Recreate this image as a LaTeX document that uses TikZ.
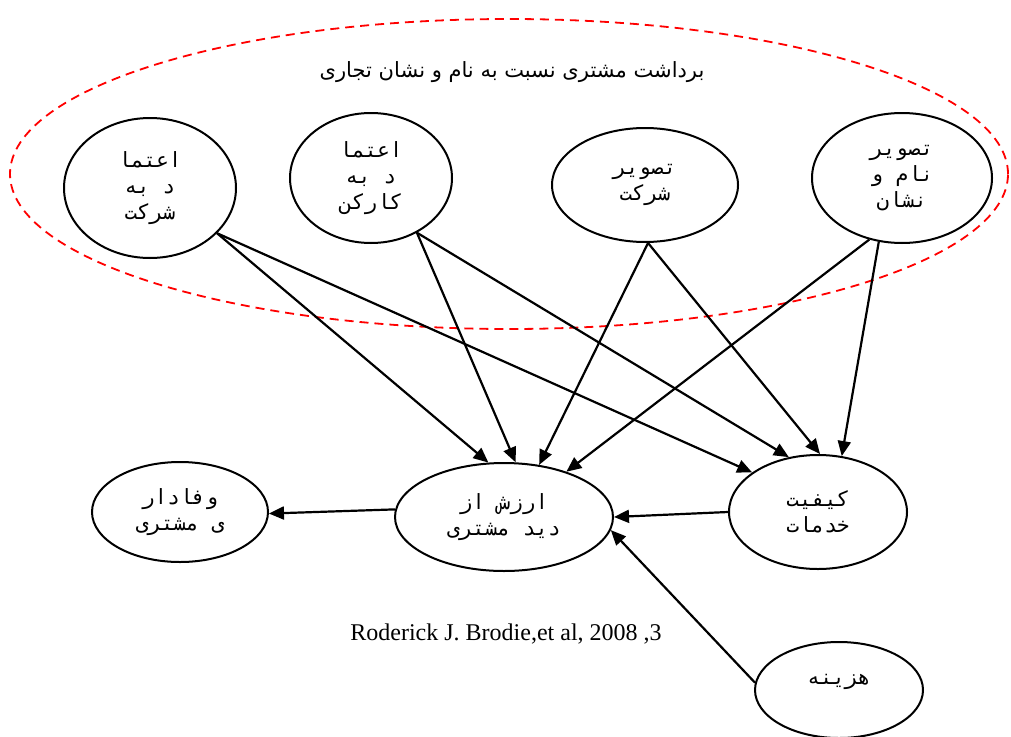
\documentclass[tikz,border=0pt]{standalone}
\usepackage{fontspec}
\setmainfont{Liberation Serif}
\newfontfamily\arabicfont[Script=Arabic]{DejaVu Sans}
\newfontfamily\arabicmono[Script=Arabic]{DejaVu Sans Mono}
\TeXXeTstate=1
\usetikzlibrary{shapes.geometric,arrows.meta}
\newcommand{\rl}[1]{\beginR #1\endR}
\tikzset{
  concept/.style={draw, ellipse, line width=2pt, inner sep=0pt, align=center,
    font=\arabicmono\fontsize{21}{26}\selectfont},
  link/.style={line width=2.2pt, -{Triangle[length=15pt,width=13pt]}},
}
\begin{document}
\begin{tikzpicture}[x=1pt,y=-1pt]
\useasboundingbox (0,0) rectangle (1011,736);
\draw[red, line width=1.8pt, dash pattern=on 9pt off 6pt] (509,174) ellipse [x radius=499pt, y radius=155pt];
\node[font=\arabicfont\fontsize{21}{24}\selectfont] (title) at (512,72) {\rl{برداشت مشتری نسبت به نام و نشان تجاری}};

\node[concept, minimum width=172pt, minimum height=140pt] (n1) at (150,188) {\rl{اعتما}\\\rl{د به}\\\rl{شرکت}};
\node[concept, minimum width=162pt, minimum height=130pt] (n2) at (371,178) {\rl{اعتما}\\\rl{د به}\\\rl{کارکن}};
\node[concept, minimum width=186pt, minimum height=114pt] (n3) at (645,185) {\rl{تصویر}\\\rl{شرکت}};
\node[concept, minimum width=180pt, minimum height=130pt] (n4) at (902,178) {\rl{تصویر}\\\rl{نام و}\\\rl{نشان}};

\node[concept, minimum width=176pt, minimum height=100pt] (loy) at (180,512) {\rl{وفادار}\\\rl{ی مشتری}};
\node[concept, minimum width=218pt, minimum height=108pt] (val) at (504,517) {\rl{ارزش از}\\\rl{دید مشتری}};
\node[concept, minimum width=178pt, minimum height=114pt] (qual) at (818,512) {\rl{کیفیت}\\\rl{خدمات}};
\node[concept, minimum width=168pt, minimum height=96pt] (cost) at (839,690) {\raisebox{22pt}{\rl{هزینه}}};

\node[font=\fontsize{24}{28}\selectfont] (cite) at (506,634) {Roderick J. Brodie,et al, 2008 ,3};

\draw[link] (n1.-34) -- (val.106);
\draw[link] (n1.-34) -- (qual.149);
\draw[link] (n2.-50) -- (val.78);
\draw[link] (n2.-50) -- (qual.118);
\draw[link] (n3.-87) -- (val.56);
\draw[link] (n3.-87) -- (qual.88);
\draw[link] (n4.-118) -- (val.36);
\draw[link] (n4.-110) -- (qual.67);
\draw[link] (qual.west) -- (val.east);
\draw[link] (val.176) -- (loy.-1);
\draw[link] (cost.175) -- (val.-7);
\end{tikzpicture}
\end{document}
